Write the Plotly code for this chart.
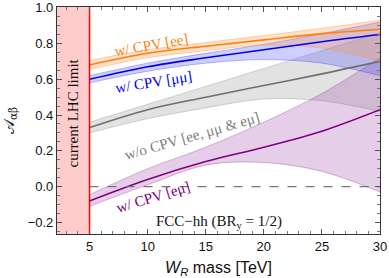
import plotly.graph_objects as go

mass = [5, 10, 15, 20, 25, 30]

ee_c = [0.68, 0.745, 0.785, 0.82, 0.855, 0.88]
ee_hi = [0.705, 0.765, 0.805, 0.845, 0.885, 0.93]
ee_lo = [0.655, 0.72, 0.76, 0.79, 0.775, 0.70]

mm_c = [0.60, 0.67, 0.72, 0.765, 0.81, 0.85]
mm_hi = [0.62, 0.69, 0.745, 0.795, 0.855, 0.92]
mm_lo = [0.58, 0.645, 0.69, 0.71, 0.69, 0.62]

no_c = [0.33, 0.43, 0.50, 0.565, 0.63, 0.70]
no_hi = [0.36, 0.46, 0.56, 0.66, 0.76, 0.86]
no_lo = [0.30, 0.38, 0.44, 0.49, 0.48, 0.42]

em_c = [-0.08, 0.04, 0.14, 0.22, 0.31, 0.43]
em_hi = [-0.045, 0.10, 0.22, 0.36, 0.52, 0.72]
em_lo = [-0.11, 0.01, 0.12, 0.135, 0.085, -0.03]

series = [
    ("w/o CPV", no_c, no_hi, no_lo, "#6e6e6e", "rgba(150,150,150,0.28)", "rgba(150,150,150,0.5)"),
    ("eμ", em_c, em_hi, em_lo, "#800080", "rgba(150,60,160,0.25)", "rgba(150,60,160,0.45)"),
    ("μμ", mm_c, mm_hi, mm_lo, "#0000ee", "rgba(60,60,255,0.25)", "rgba(60,60,255,0.45)"),
    ("ee", ee_c, ee_hi, ee_lo, "#ff7f0e", "rgba(255,150,60,0.28)", "rgba(255,150,60,0.5)"),
]

YMIN, YMAX = -0.265, 1.004

fig = go.Figure()
fig.add_shape(type="rect", x0=2.2, x1=5, y0=YMIN, y1=YMAX, xref="x", yref="y",
              fillcolor="#ffcccc", line_width=0, layer="below")

for name, c, hi, lo, col, fill, edge in series:
    fig.add_trace(go.Scatter(x=mass, y=hi, mode="lines", line=dict(width=0.8, color=edge),
                             line_shape="spline", showlegend=False, hoverinfo="skip"))
    fig.add_trace(go.Scatter(x=mass, y=lo, mode="lines", line=dict(width=0.8, color=edge),
                             line_shape="spline", fill="tonexty", fillcolor=fill, showlegend=False, hoverinfo="skip"))
for name, c, hi, lo, col, fill, edge in series:
    fig.add_trace(go.Scatter(x=mass, y=c, mode="lines", line=dict(width=1.6, color=col),
                             line_shape="spline", showlegend=False))

fig.add_trace(go.Scatter(x=[5, 30], y=[0, 0], mode="lines",
                         line=dict(color="#777777", width=1.2, dash="dash"), showlegend=False))
fig.add_trace(go.Scatter(x=[5, 5], y=[YMIN, YMAX], mode="lines",
                         line=dict(color="#ff0000", width=1.5), showlegend=False))

serif = "Liberation Serif"
anns = [
    dict(x=10.3, y=0.79, text="w/ CPV [ee]", color="#ff7f0e", angle=-10),
    dict(x=10.5, y=0.585, text="w/ CPV [μμ]", color="#0000ee", angle=-9),
    dict(x=13.8, y=0.285, text="w/o CPV [ee, μμ &amp; eμ]", color="#808080", angle=-16),
    dict(x=10.5, y=-0.056, text="w/ CPV [eμ]", color="#800080", angle=-17),
]
for a in anns:
    fig.add_annotation(x=a["x"], y=a["y"], text=a["text"], showarrow=False, textangle=a["angle"],
                       font=dict(family=serif, size=15, color=a["color"]))
fig.add_annotation(x=16.1, y=-0.20, text="FCC−hh (BR<sub>y</sub> = 1/2)", showarrow=False,
                   font=dict(family=serif, size=15, color="#111111"))
fig.add_annotation(x=3.6, y=0.41, text="current LHC limit", showarrow=False, textangle=-90,
                   font=dict(family=serif, size=15, color="#111111"))

axis_common = dict(showgrid=False, zeroline=False, ticks="inside", mirror="allticks", showline=True,
                   linecolor="#333333", linewidth=1.2, ticklen=5, tickcolor="#555555", automargin=False,
                   ticklabeloverflow="allow",
                   tickfont=dict(family="Liberation Sans", size=13, color="#111111"))
fig.update_xaxes(range=[2.2, 30], tickvals=[5, 10, 15, 20, 25, 30],
                 minor=dict(ticks="inside", ticklen=3, dtick=1, tickcolor="#777777"),
                 title=dict(text="<i>W<sub>R</sub></i> mass [TeV]", font=dict(family="Liberation Sans", size=16, color="#111111")),
                 **axis_common)
fig.update_yaxes(range=[YMIN, YMAX], tickvals=[-0.2, 0, 0.2, 0.4, 0.6, 0.8, 1.0], tickformat=".1f",
                 minor=dict(ticks="inside", ticklen=3, dtick=0.05, tickcolor="#777777"),
                 title=dict(text="𝒜<sub>αβ</sub>", font=dict(family="DejaVu Serif", size=15, color="#111111")),
                 **axis_common)
fig.update_layout(width=389, height=278, margin=dict(l=57, r=9, t=7, b=44),
                  plot_bgcolor="white", paper_bgcolor="white")
fig.write_html("out.html", config={"displayModeBar": False},
               post_script="document.body.style.margin='0';")
